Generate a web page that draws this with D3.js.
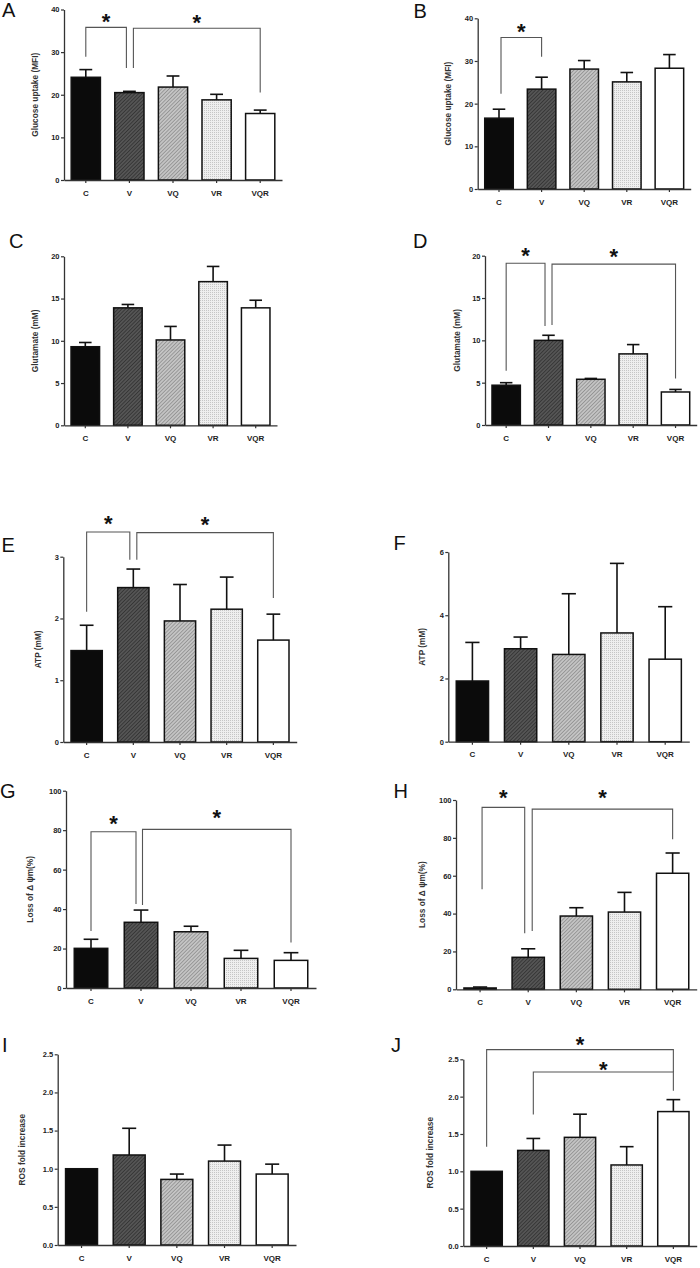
<!DOCTYPE html>
<html><head><meta charset="utf-8">
<script src="https://cdn.jsdelivr.net/npm/d3@7"></script>
<style>body{margin:0;background:#fff} svg{display:block}</style>
</head><body><svg id="fig" width="700" height="1268"></svg>
<script>
// ---------- data ----------
const categories = ["C", "V", "VQ", "VR", "VQR"];

const glucoseA = [24.1, 20.5, 21.8, 18.8, 15.6];
const glucoseErrA = [1.8, 0.3, 2.6, 1.3, 0.8];
const glucoseB = [16.6, 23.4, 28.1, 25.1, 28.3];
const glucoseErrB = [2.1, 2.8, 2.0, 2.2, 3.2];

const glutamateC = [9.3, 13.9, 10.1, 17.0, 13.9];
const glutamateErrC = [0.5, 0.4, 1.6, 1.8, 0.9];
const glutamateD = [4.7, 10.0, 5.4, 8.4, 3.9];
const glutamateErrD = [0.3, 0.6, 0.1, 1.1, 0.3];

const atpE = [1.48, 2.50, 1.96, 2.15, 1.65];
const atpErrE = [0.41, 0.30, 0.59, 0.52, 0.42];
const atpF = [1.92, 2.94, 2.76, 3.44, 2.61];
const atpErrF = [1.22, 0.37, 1.92, 2.20, 1.66];

const mmpG = [20.1, 33.3, 28.5, 15.0, 14.0];
const mmpErrG = [4.6, 6.2, 2.8, 4.1, 3.9];
const mmpH = [0.7, 16.9, 38.7, 40.8, 61.3];
const mmpErrH = [0.5, 4.5, 4.4, 10.4, 10.7];

const rosI = [1.0, 1.18, 0.86, 1.10, 0.93];
const rosErrI = [0, 0.35, 0.07, 0.21, 0.13];
const rosJ = [1.0, 1.28, 1.455, 1.085, 1.80];
const rosErrJ = [0, 0.16, 0.31, 0.245, 0.16];

const ticksGlucose = [0, 10, 20, 30, 40];
const ticksGlutamate = [0, 5, 10, 15, 20];
const ticksAtpE = [0, 1, 2, 3];
const ticksAtpF = [0, 2, 4, 6];
const ticksMmp = [0, 20, 40, 60, 80, 100];
const ticksRos = [0, 0.5, 1.0, 1.5, 2.0, 2.5];

// significance brackets: [fromIdx, toIdx, level, leftEnd, rightEnd] (value units)
const sigA = [[0, 1, 35.8, 28.9, 26.3], [1, 4, 35.6, 26.3, 20.5]];
const sigB = [[0, 1, 35.5, 22.3, 31.0]];
const sigD = [[0, 1, 19.1, 6.4, 11.7], [1, 4, 19.0, 11.8, 5.5]];
const sigE = [[0, 1, 3.40, 2.11, 2.95], [1, 4, 3.39, 2.95, 2.33]];
const sigG = [[0, 1, 79.2, 28.9, 42.6], [1, 4, 80.4, 42.1, 23.0]];
const sigH = [[0, 1, 96.1, 52.8, 29.6], [1, 4, 95.2, 30.8, 79.2]];
const sigJ = [[0, 4, 2.63, 1.33, 2.33], [1, 4, 2.33, 1.76, 2.08]];

// ---------- layout (positions/styles) ----------
const panels = [
  {letter: "A", vals: glucoseA, errs: glucoseErrA, ticks: ticksGlucose, title: "Glucose uptake (MFI)", sig: sigA,
   x0: 64, x1: 282, yb: 180, yt: 9.5, lx: 2, ly: 17, tx: 35, legDx: [[0, -3], [4, 0]], starGap: [10, 10]},
  {letter: "B", vals: glucoseB, errs: glucoseErrB, ticks: ticksGlucose, title: "Glucose uptake (MFI)", sig: sigB,
   x0: 477.7, x1: 690.7, yb: 189, yt: 18.3, lx: 413.5, ly: 18, tx: 448, legDx: [[2, 0]], starGap: [10]},
  {letter: "C", vals: glutamateC, errs: glutamateErrC, ticks: ticksGlutamate, title: "Glutamate (mM)", sig: [],
   x0: 64, x1: 277, yb: 425.3, yt: 256.3, lx: 9, ly: 248, tx: 35, legDx: [], starGap: []},
  {letter: "D", vals: glutamateD, errs: glutamateErrD, ticks: ticksGlutamate, title: "Glutamate (mM)", sig: sigD,
   x0: 485, x1: 696.7, yb: 425, yt: 255.7, lx: 413, ly: 248, tx: 456.7, legDx: [[0, -3.5], [3.5, 0]], starGap: [12, 12]},
  {letter: "E", vals: atpE, errs: atpErrE, ticks: ticksAtpE, title: "ATP (mM)", sig: sigE,
   x0: 63.3, x1: 296.7, yb: 742, yt: 556.7, lx: 1.5, ly: 552, tx: 38.3, legDx: [[0, -3.5], [3.5, 0]], starGap: [12, 12]},
  {letter: "F", vals: atpF, errs: atpErrF, ticks: ticksAtpF, title: "ATP (mM)", sig: [],
   x0: 448.3, x1: 689.3, yb: 741.7, yt: 552, lx: 393.5, ly: 550, tx: 421.7, legDx: [], starGap: []},
  {letter: "G", vals: mmpG, errs: mmpErrG, ticks: ticksMmp, title: "Loss of \u0394  \u03c8m(%)", sig: sigG,
   x0: 66, x1: 316, yb: 988, yt: 790.7, lx: 0, ly: 798, tx: 30, legDx: [[0, -5], [1.5, 0]], starGap: [12, 16]},
  {letter: "H", vals: mmpH, errs: mmpErrH, ticks: ticksMmp, title: "Loss of \u0394  \u03c8m(%)", sig: sigH,
   x0: 456, x1: 696.7, yb: 989.3, yt: 800, lx: 393.5, ly: 798, tx: 421.7, legDx: [[2, -3.5], [4, 0]], starGap: [14, 16]},
  {letter: "I", vals: rosI, errs: rosErrI, ticks: ticksRos, title: "ROS  fold increase", sig: [],
   x0: 57.7, x1: 296, yb: 1245, yt: 1054.3, lx: 2, ly: 1052, tx: 21.7, legDx: [], starGap: [], fmt: ".1f"},
  {letter: "J", vals: rosJ, errs: rosErrJ, ticks: ticksRos, title: "ROS  fold increase", sig: sigJ,
   x0: 463.3, x1: 696.7, yb: 1246, yt: 1059.3, lx: 391, ly: 1052, tx: 430, legDx: [[0, 0], [0, 0]], starGap: [9, 6], fmt: ".1f"}
];

const FONT = "'Liberation Sans', Arial, Helvetica, sans-serif";
const svg = d3.select("#fig");
svg.append("rect").attr("width", 700).attr("height", 1268).attr("fill", "#fff");

// patterns
const defs = svg.append("defs");
function hatch(id, bg, fg, size, angle, w) {
  const p = defs.append("pattern").attr("id", id).attr("patternUnits", "userSpaceOnUse")
    .attr("width", size).attr("height", size).attr("patternTransform", `rotate(${angle})`);
  p.append("rect").attr("width", size).attr("height", size).attr("fill", bg);
  p.append("line").attr("x1", 0).attr("y1", 0).attr("x2", 0).attr("y2", size)
    .attr("stroke", fg).attr("stroke-width", w);
}
hatch("patV", "#555555", "#262626", 2.6, 45, 1.2);
hatch("patVQ", "#c4c4c4", "#6e6e6e", 2.6, 45, 1.0);
const dots = defs.append("pattern").attr("id", "patVR").attr("patternUnits", "userSpaceOnUse")
  .attr("width", 2).attr("height", 2);
dots.append("rect").attr("width", 2).attr("height", 2).attr("fill", "#efefef");
dots.append("rect").attr("width", 1).attr("height", 1).attr("fill", "#c6c6c6");

const fills = ["#0b0b0b", "url(#patV)", "url(#patVQ)", "url(#patVR)", "#ffffff"];

panels.forEach(p => {
  const g = svg.append("g");
  const x = d3.scaleBand().domain(categories).range([p.x0, p.x1]).paddingInner(0.33).paddingOuter(0.165);
  const top = p.ticks[p.ticks.length - 1];
  const y = d3.scaleLinear().domain([0, top]).range([p.yb, p.yt]);
  const bw = x.bandwidth();
  const fmt = p.fmt ? d3.format(p.fmt) : d3.format("d");

  // bars
  g.selectAll("rect.bar").data(categories).join("rect")
    .attr("x", d => x(d)).attr("width", bw)
    .attr("y", (d, i) => y(p.vals[i])).attr("height", (d, i) => p.yb - y(p.vals[i]))
    .attr("fill", (d, i) => fills[i]).attr("stroke", "#111").attr("stroke-width", 1.5);

  // error bars (upper only)
  categories.forEach((c, i) => {
    if (!p.errs[i]) return;
    const cx = x(c) + bw / 2, yv = y(p.vals[i]), ye = y(p.vals[i] + p.errs[i]);
    g.append("line").attr("x1", cx).attr("x2", cx).attr("y1", yv).attr("y2", ye)
      .attr("stroke", "#111").attr("stroke-width", 1.6);
    g.append("line").attr("x1", cx - bw * 0.22).attr("x2", cx + bw * 0.22).attr("y1", ye).attr("y2", ye)
      .attr("stroke", "#111").attr("stroke-width", 1.6);
  });

  // axes
  const ya = g.append("g").attr("transform", `translate(${p.x0},0)`)
    .call(d3.axisLeft(y).tickValues(p.ticks).tickSize(3).tickSizeOuter(0).tickPadding(1.5).tickFormat(fmt));
  ya.select(".domain").attr("stroke", "#333").attr("stroke-width", 1.3);
  ya.selectAll(".tick line").attr("stroke", "#333").attr("stroke-width", 1.2);
  ya.selectAll(".tick text").attr("font-family", FONT).attr("font-size", 7.5).attr("font-weight", "bold").attr("fill", "#222");

  const xa = g.append("g").attr("transform", `translate(0,${p.yb})`)
    .call(d3.axisBottom(x).tickSize(3).tickSizeOuter(0).tickPadding(7));
  xa.select(".domain").attr("stroke", "#333").attr("stroke-width", 1.3);
  xa.selectAll(".tick line").attr("stroke", "#333").attr("stroke-width", 1.2);
  xa.selectAll(".tick text").attr("font-family", FONT).attr("font-size", 8).attr("font-weight", "bold").attr("fill", "#222");

  // y title
  g.append("text").attr("transform", `translate(${p.tx},${(p.yb + p.yt) / 2}) rotate(-90)`)
    .attr("text-anchor", "middle").attr("dy", "0.35em")
    .attr("font-family", FONT).attr("font-size", 8.3).attr("font-weight", "bold").attr("fill", "#333")
    .text(p.title);

  // panel letter
  g.append("text").attr("x", p.lx).attr("y", p.ly).attr("font-family", FONT).attr("font-size", 20)
    .attr("fill", "#111").text(p.letter);

  // significance brackets
  p.sig.forEach((s, k) => {
    const [a, b, lev, le, re] = s;
    const dx = p.legDx[k];
    const xa1 = x(categories[a]) + bw / 2 + dx[0];
    const xb1 = x(categories[b]) + bw / 2 + dx[1];
    const yl = y(lev);
    g.append("path").attr("d", `M${xa1},${y(le)}V${yl}H${xb1}V${y(re)}`)
      .attr("fill", "none").attr("stroke", "#555").attr("stroke-width", 1.1);
    g.append("text").attr("x", (xa1 + xb1) / 2).attr("y", yl - p.starGap[k] + 11.5)
      .attr("text-anchor", "middle").attr("font-family", FONT).attr("font-size", 22).attr("font-weight", "bold")
      .attr("fill", "#111").text("*");
  });
});
</script></body></html>
